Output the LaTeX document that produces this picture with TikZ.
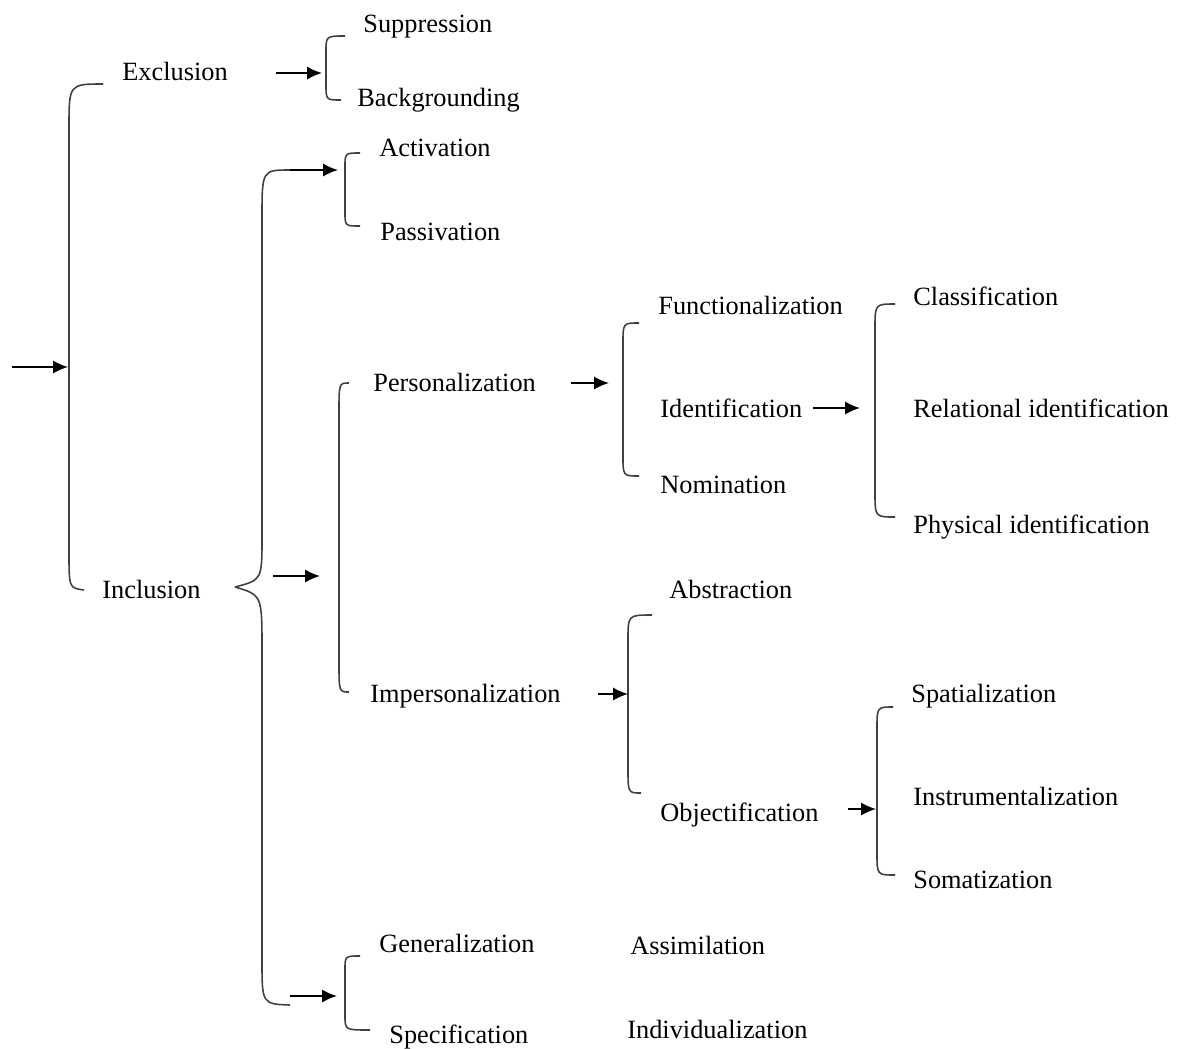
\documentclass[tikz,border=0pt]{standalone}
\usepackage{fontspec}
\setmainfont{Liberation Serif}
\usetikzlibrary{arrows.meta}

\tikzset{
  lbl/.style={anchor=mid west, inner sep=0pt, yshift=-0.09cm, font=\fontsize{15}{18}\selectfont},
  brk/.style={line width=0.9pt, draw=black!75},
  arr/.style={line width=1pt, -{Latex[length=8.5pt,width=7.5pt]}},
}

\begin{document}
\begin{tikzpicture}[x=0.02cm,y=-0.02cm]

\useasboundingbox (0,0) rectangle (1188,1049);

% labels, left to right
\node[lbl] (excl) at (122,72) {Exclusion};
\node[lbl] (incl) at (102,590) {Inclusion};

\node[lbl] (supp) at (363,24) {Suppression};
\node[lbl] (backg) at (357,98) {Backgrounding};
\node[lbl] (activ) at (379,148) {Activation};
\node[lbl] (passiv) at (380,232) {Passivation};
\node[lbl] (pers) at (373,383) {Personalization};
\node[lbl] (impers) at (370,694) {Impersonalization};
\node[lbl] (gener) at (379,944) {Generalization};
\node[lbl] (spec) at (389,1035) {Specification};

\node[lbl] (func) at (658,306) {Functionalization};
\node[lbl] (ident) at (660,409) {Identification};
\node[lbl] (nomin) at (660,485) {Nomination};
\node[lbl] (abstr) at (669,590) {Abstraction};
\node[lbl] (objec) at (660,813) {Objectification};
\node[lbl] (assim) at (630,946) {Assimilation};
\node[lbl] (indiv) at (627,1030) {Individualization};

\node[lbl] (classif) at (913,297) {Classification};
\node[lbl] (relid) at (913,409) {Relational identification};
\node[lbl] (physid) at (913,525) {Physical identification};
\node[lbl] (spat) at (911,694) {Spatialization};
\node[lbl] (instr) at (913,797) {Instrumentalization};
\node[lbl] (somat) at (913,880) {Somatization};

% arrow ends
\coordinate (in0) at (12,367);
\coordinate (in1) at (68,367);
\coordinate (exA) at (276,73);
\coordinate (exB) at (322,73);
\coordinate (icA) at (290,170);
\coordinate (icB) at (338,170);
\coordinate (imA) at (273,576);
\coordinate (imB) at (320,576);
\coordinate (ibA) at (290,996);
\coordinate (ibB) at (337,996);
\coordinate (peA) at (571,383);
\coordinate (peB) at (609,383);
\coordinate (idA) at (813,408);
\coordinate (idB) at (860,408);
\coordinate (ipA) at (598,694);
\coordinate (ipB) at (628,694);
\coordinate (obA) at (848,809);
\coordinate (obB) at (876,809);

% left brace
\draw[brk] (103,84) .. controls (69,84) .. (69,128) -- (69,552) .. controls (69,588) .. (84,590);

% inclusion brace
\draw[brk] (235,587) .. controls (262,580) .. (262,537) -- (262,218) .. controls (262,170) .. (icA);
\draw[brk] (235,587) .. controls (262,595) .. (262,650) -- (262,960) .. controls (262,1004) .. (290,1005);

% small brackets
\draw[brk] (345,36) .. controls (326,36) .. (326,52) -- (326,84) .. controls (326,100) .. (341,100);
\draw[brk] (360,153) .. controls (345,153) .. (345,167) -- (345,212) .. controls (345,226) .. (360,226);
\draw[brk] (360,956) .. controls (345,956) .. (345,970) -- (345,1016) .. controls (345,1030) .. (370,1030);

% tall brackets
\draw[brk] (349,383) .. controls (339,383) .. (339,413) -- (339,662) .. controls (339,692) .. (349,692);
\draw[brk] (639,323) .. controls (623,323) .. (623,343) -- (623,456) .. controls (623,476) .. (639,476);
\draw[brk] (895,304) .. controls (875,304) .. (875,329) -- (875,492) .. controls (875,517) .. (895,517);
\draw[brk] (652,615) .. controls (628,615) .. (628,640) -- (628,768) .. controls (628,793) .. (641,793);
\draw[brk] (893,707) .. controls (877,707) .. (877,729) -- (877,853) .. controls (877,875) .. (895,875);

% arrows
\draw[arr] (in0) -- (in1);
\draw[arr] (exA) -- (exB);
\draw[arr] (icA) -- (icB);
\draw[arr] (imA) -- (imB);
\draw[arr] (ibA) -- (ibB);
\draw[arr] (peA) -- (peB);
\draw[arr] (idA) -- (idB);
\draw[arr] (ipA) -- (ipB);
\draw[arr] (obA) -- (obB);

\end{tikzpicture}
\end{document}
